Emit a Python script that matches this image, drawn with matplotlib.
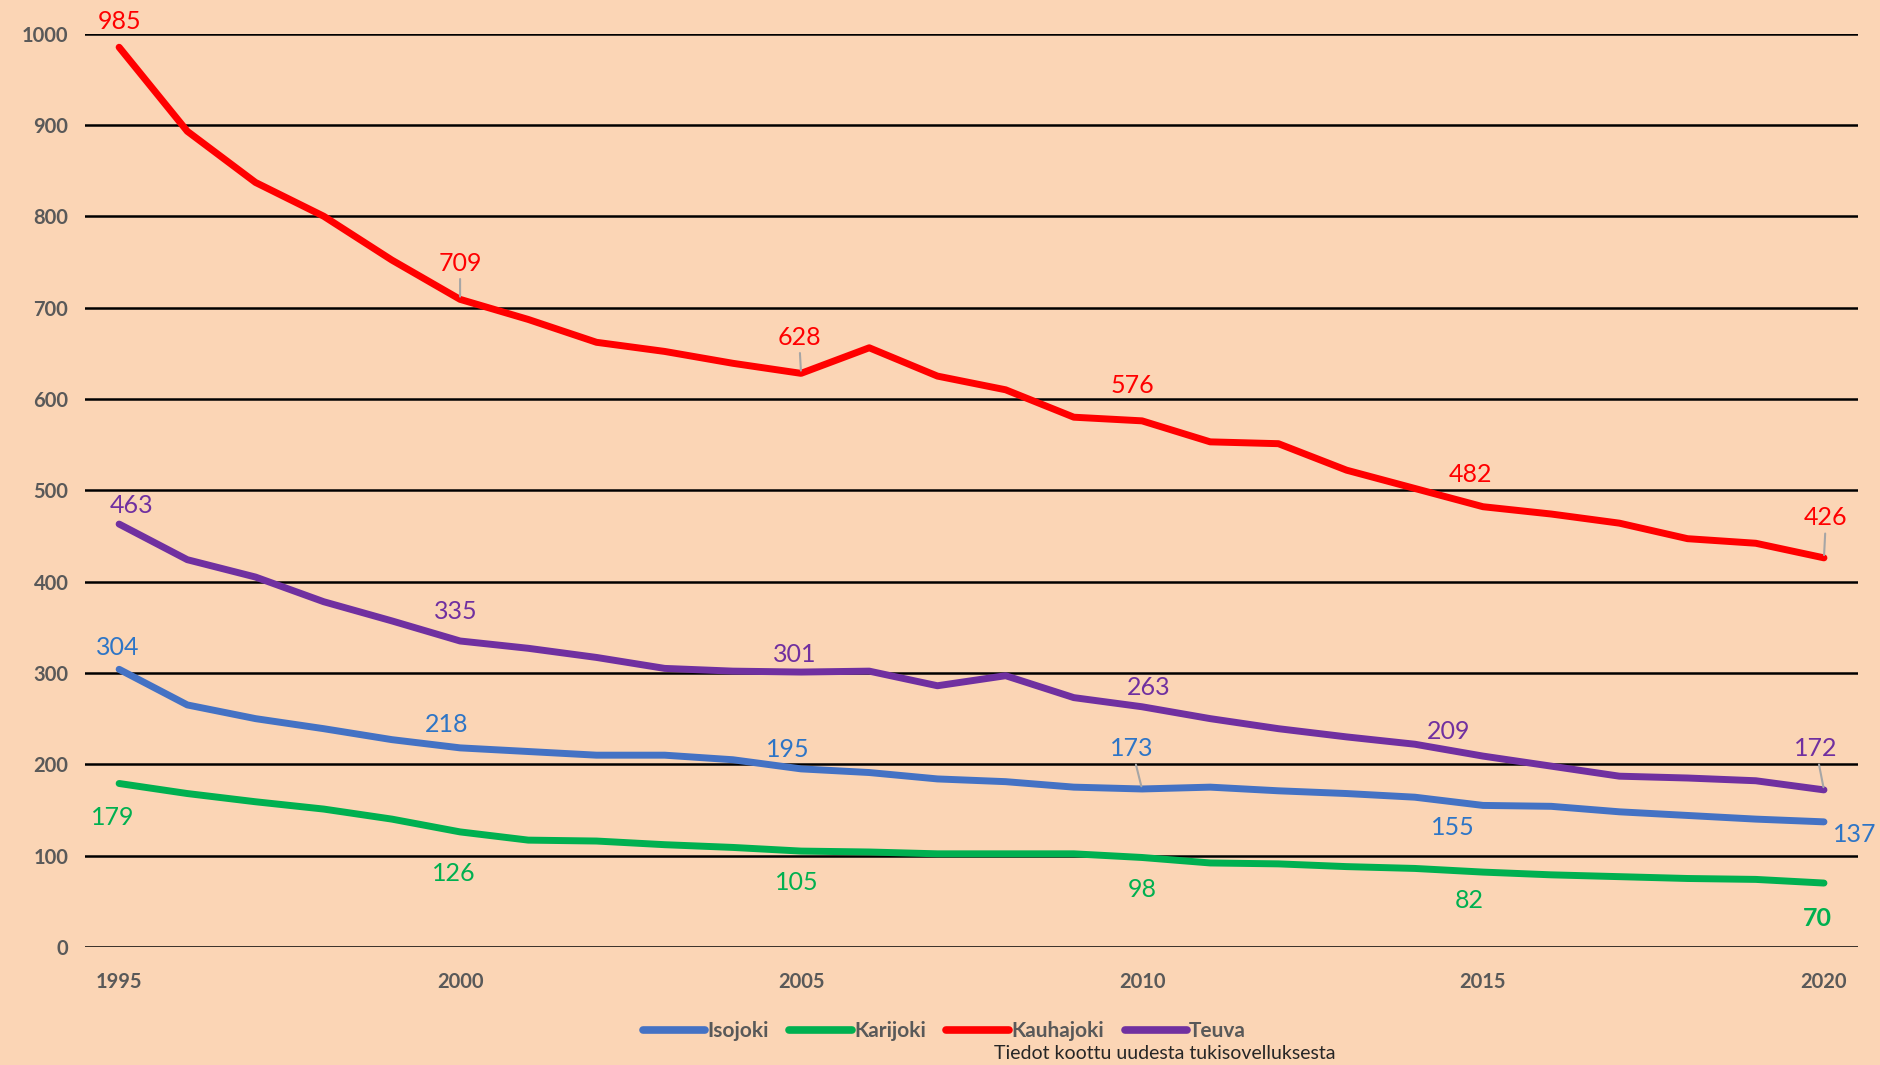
import numpy as np
import matplotlib.pyplot as plt

plt.rcParams['font.family'] = ['Lato', 'DejaVu Sans']

years = list(range(1995, 2021))

isojoki = [304, 265, 250, 239, 227, 218, 214, 210, 210, 205, 195, 191, 184, 181, 175,
           173, 175, 171, 168, 164, 155, 154, 148, 144, 140, 137]
karijoki = [179, 168, 159, 151, 140, 126, 117, 116, 112, 109, 105, 104, 102, 102, 102,
            98, 92, 91, 88, 86, 82, 79, 77, 75, 74, 70]
kauhajoki = [985, 893, 837, 800, 752, 709, 687, 662, 652, 639, 628, 656, 625, 610, 580,
             576, 553, 551, 522, 502, 482, 474, 464, 447, 442, 426]
teuva = [463, 424, 405, 378, 357, 335, 327, 317, 305, 302, 301, 302, 286, 297, 273,
         263, 250, 239, 230, 222, 209, 198, 187, 185, 182, 172]

series_names = ['Isojoki', 'Karijoki', 'Kauhajoki', 'Teuva']
line_colors = ['#4472C4', '#00B050', '#FF0000', '#7030A0']
label_colors = ['#2E75C6', '#00B050', '#FF0000', '#7030A0']

# labelled years per series and pixel offsets (dx, dy) for the data labels
label_years = [1995, 2000, 2005, 2010, 2015, 2020]
label_offsets = {
    'Isojoki': [(-1, 22), (-13, 23), (-13, 19), (-10, 40), (-30, -22), (31, -13)],
    'Karijoki': [(-6, -34), (-6, -42), (-4, -31), (0, -32), (-14, -28), (-7, -35)],
    'Kauhajoki': [(0, 26), (0, 36), (-2, 36), (-10, 35), (-13, 32), (2, 40)],
    'Teuva': [(12, 19), (-4, 29), (-6, 18), (7, 19), (-34, 25), (-8, 41)],
}
leaders = {('Kauhajoki', 2000), ('Kauhajoki', 2005), ('Kauhajoki', 2020),
           ('Teuva', 2020), ('Isojoki', 2010)}

bg = '#FBD5B5'
fig = plt.figure(figsize=(18.81, 10.65), dpi=100, facecolor=bg)
ax = fig.add_axes([0.0452, 0.1108, 0.9426, 0.8577], facecolor=bg)

data = [isojoki, karijoki, kauhajoki, teuva]
for name, vals, lc in zip(series_names, data, line_colors):
    ax.plot(years, vals, color=lc, lw=5, solid_capstyle='round', solid_joinstyle='round',
            label=name, zorder=3)

for name, vals, tc in zip(series_names, data, label_colors):
    for yr, (dx, dy) in zip(label_years, label_offsets[name]):
        v = vals[years.index(yr)]
        bold = (name == 'Karijoki' and yr == 2020)
        arrow = None
        if (name, yr) in leaders:
            arrow = dict(arrowstyle='-', color='#A6A6A6', lw=1.5, shrinkA=1, shrinkB=2)
        ax.annotate(str(v), (yr, v), xytext=(dx, dy), textcoords='offset pixels',
                    ha='center', va='center', fontsize=18, color=tc,
                    fontweight='bold' if bold else 'normal', arrowprops=arrow, zorder=4)

ax.set_xlim(1994.5, 2020.5)
ax.set_ylim(0, 1000)
ax.set_yticks(range(0, 1001, 100))
ax.set_xticks([1995, 2000, 2005, 2010, 2015, 2020])
ax.grid(axis='y', color='black', lw=1.8, zorder=1)
ax.set_axisbelow(True)
for s in ax.spines.values():
    s.set_visible(False)
ax.tick_params(length=0, labelsize=14.5, labelcolor='#595959')
ax.tick_params(axis='y', pad=12)
ax.tick_params(axis='x', pad=18)
for t in ax.get_xticklabels() + ax.get_yticklabels():
    t.set_fontweight('bold')

leg = fig.legend(loc='center', bbox_to_anchor=(0.502, 0.032), ncol=4, frameon=False,
                 handlelength=3.0, handletextpad=0.1, columnspacing=1.0,
                 prop={'size': 15, 'weight': 'bold'})
for t in leg.get_texts():
    t.set_color('#595959')
for h in leg.get_lines():
    h.set_linewidth(5.5)

fig.text(0.619, 0.0105, 'Tiedot koottu uudesta tukisovelluksesta', ha='center', va='center',
         fontsize=14, color='#262626')

fig.savefig('out.png', dpi=100, facecolor=bg)
